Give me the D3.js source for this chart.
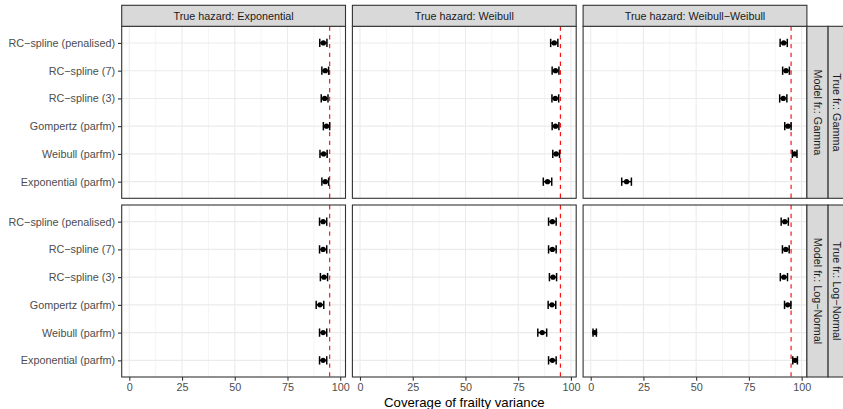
<!DOCTYPE html>
<html>
<head>
<meta charset="utf-8">
<script src="https://cdn.jsdelivr.net/npm/d3@7"></script>
<style>
  body { margin: 0; background: #fff; }
  svg { display: block; font-family: "Liberation Sans", Arial, Helvetica, sans-serif; }
</style>
</head>
<body>
<svg id="chart" width="843" height="409"></svg>
<script>
// Fitted models, listed top to bottom
const models = ["RC\u2212spline (penalised)", "RC\u2212spline (7)", "RC\u2212spline (3)",
                "Gompertz (parfm)", "Weibull (parfm)", "Exponential (parfm)"];
// Column facets (true baseline hazard) and row facets (frailty distribution)
const hazards = ["Exponential", "Weibull", "Weibull\u2212Weibull"];
const frailties = ["Gamma", "Log\u2212Normal"];
const xTicks = [0, 25, 50, 75, 100];
const nominalCoverage = 95;

// Coverage (%) with lower / upper interval, one array per panel, in model order
const gammaExpCov   = [92.0, 92.9, 92.6, 93.5, 92.1, 92.9];
const gammaExpLow   = [90.3, 91.3, 91.0, 92.0, 90.4, 91.3];
const gammaExpHigh  = [93.7, 94.5, 94.2, 95.0, 93.8, 94.5];

const gammaWeiCov   = [92.1, 92.7, 92.6, 92.7, 93.0, 88.9];
const gammaWeiLow   = [90.4, 91.1, 91.0, 91.1, 91.4, 86.9];
const gammaWeiHigh  = [93.8, 94.3, 94.2, 94.3, 94.6, 90.9];

const gammaWWCov    = [91.5, 92.6, 91.3, 93.5, 96.7, 17.0];
const gammaWWLow    = [89.8, 91.0, 89.6, 92.0, 95.6, 14.7];
const gammaWWHigh   = [93.2, 94.2, 93.0, 95.0, 97.8, 19.3];

const lnormExpCov   = [91.9, 91.9, 92.3, 90.4, 91.9, 91.9];
const lnormExpLow   = [90.2, 90.2, 90.6, 88.6, 90.2, 90.2];
const lnormExpHigh  = [93.6, 93.6, 94.0, 92.2, 93.6, 93.6];

const lnormWeiCov   = [91.2, 91.2, 91.5, 91.0, 86.4, 91.2];
const lnormWeiLow   = [89.4, 89.4, 89.8, 89.2, 84.3, 89.4];
const lnormWeiHigh  = [93.0, 93.0, 93.2, 92.8, 88.5, 93.0];

const lnormWWCov    = [92.0, 92.5, 91.6, 93.4, 1.9, 96.9];
const lnormWWLow    = [90.3, 90.9, 89.9, 91.9, 1.1, 95.8];
const lnormWWHigh   = [93.7, 94.1, 93.3, 94.9, 2.7, 98.0];

const panelSeries = [
  [[gammaExpCov, gammaExpLow, gammaExpHigh],
   [gammaWeiCov, gammaWeiLow, gammaWeiHigh],
   [gammaWWCov, gammaWWLow, gammaWWHigh]],
  [[lnormExpCov, lnormExpLow, lnormExpHigh],
   [lnormWeiCov, lnormWeiLow, lnormWeiHigh],
   [lnormWWCov, lnormWWLow, lnormWWHigh]]
];

// ---- layout ----
const panelX0 = 121.7, panelW = 223.8, panelGapX = 6.9;
const stripTop = 5.3, stripH = 21;
const panelY0 = stripTop + stripH, panelH = 172, panelGapY = 6.7;
const sideStripW = 21.2;
const tickLen = 3.7;

const svg = d3.select("#chart");

const x = d3.scaleLinear().domain([-3.6, 102.5]).range([0, panelW]);
const y = d3.scalePoint().domain(models).range([0, panelH]).padding(0.6);
const capW = y.step() * 0.3;
const minorTicks = d3.range(12.5, 100, 25);

const grey20 = "#333333", grey30 = "#4D4D4D", grey85 = "#D9D9D9", grey92 = "#EBEBEB";

frailties.forEach((fr, r) => {
  hazards.forEach((hz, c) => {
    const px = panelX0 + c * (panelW + panelGapX);
    const py = panelY0 + r * (panelH + panelGapY);
    const g = svg.append("g").attr("transform", `translate(${px},${py})`);

    g.append("rect").attr("width", panelW).attr("height", panelH).attr("fill", "#fff");

    // grid
    g.selectAll(".minor").data(minorTicks).join("line")
      .attr("x1", d => x(d)).attr("x2", d => x(d)).attr("y1", 0).attr("y2", panelH)
      .attr("stroke", grey92).attr("stroke-width", 0.55);
    g.selectAll(".majx").data(xTicks).join("line")
      .attr("x1", d => x(d)).attr("x2", d => x(d)).attr("y1", 0).attr("y2", panelH)
      .attr("stroke", grey92).attr("stroke-width", 1.1);
    g.selectAll(".majy").data(models).join("line")
      .attr("x1", 0).attr("x2", panelW).attr("y1", d => y(d)).attr("y2", d => y(d))
      .attr("stroke", grey92).attr("stroke-width", 1.1);

    // nominal coverage reference
    g.append("line")
      .attr("x1", x(nominalCoverage)).attr("x2", x(nominalCoverage))
      .attr("y1", 0).attr("y2", panelH)
      .attr("stroke", "#FF0000").attr("stroke-width", 1.1)
      .attr("stroke-dasharray", "4.4,4.4");

    const [cov, lo, hi] = panelSeries[r][c];
    const rows = models.map((m, i) => ({ m, v: cov[i], lo: lo[i], hi: hi[i] }));

    const eb = g.selectAll(".eb").data(rows).join("g")
      .attr("stroke", "#000").attr("stroke-width", 1.5).attr("fill", "none");
    eb.append("line").attr("x1", d => x(d.lo)).attr("x2", d => x(d.hi))
      .attr("y1", d => y(d.m)).attr("y2", d => y(d.m));
    eb.append("line").attr("x1", d => x(d.lo)).attr("x2", d => x(d.lo))
      .attr("y1", d => y(d.m) - capW / 2).attr("y2", d => y(d.m) + capW / 2);
    eb.append("line").attr("x1", d => x(d.hi)).attr("x2", d => x(d.hi))
      .attr("y1", d => y(d.m) - capW / 2).attr("y2", d => y(d.m) + capW / 2);

    g.selectAll(".pt").data(rows).join("circle")
      .attr("cx", d => x(d.v)).attr("cy", d => y(d.m)).attr("r", 2.6).attr("fill", "#000");

    // border
    g.append("rect").attr("width", panelW).attr("height", panelH)
      .attr("fill", "none").attr("stroke", grey20).attr("stroke-width", 1.1);

    // y axis on first column
    if (c === 0) {
      const ya = g.append("g").call(d3.axisLeft(y).tickSize(tickLen).tickPadding(3));
      ya.select(".domain").remove();
      ya.selectAll(".tick line").attr("stroke", grey20).attr("stroke-width", 1.1);
      ya.selectAll(".tick text").attr("fill", grey30).attr("font-size", "10.8px")
        .attr("font-family", "Liberation Sans, Arial, sans-serif");
    }
    // x axis on bottom row
    if (r === frailties.length - 1) {
      const xa = g.append("g").attr("transform", `translate(0,${panelH})`)
        .call(d3.axisBottom(x).tickValues(xTicks).tickSize(tickLen).tickPadding(3));
      xa.select(".domain").remove();
      xa.selectAll(".tick line").attr("stroke", grey20).attr("stroke-width", 1.1);
      xa.selectAll(".tick text").attr("fill", grey30).attr("font-size", "10.8px")
        .attr("font-family", "Liberation Sans, Arial, sans-serif");
    }

    // top strips
    if (r === 0) {
      const s = svg.append("g").attr("transform", `translate(${px},${stripTop})`);
      s.append("rect").attr("width", panelW).attr("height", stripH)
        .attr("fill", grey85).attr("stroke", grey20).attr("stroke-width", 1.1);
      s.append("text").attr("x", panelW / 2).attr("y", stripH / 2).attr("dy", "0.35em")
        .attr("text-anchor", "middle").attr("font-size", "10.8px").attr("fill", "#1A1A1A")
        .text(`True hazard: ${hz}`);
    }
  });

  // right strips: model frailty (inner) and true frailty (outer)
  const sx = panelX0 + hazards.length * panelW + (hazards.length - 1) * panelGapX;
  const py = panelY0 + r * (panelH + panelGapY);
  [`Model fr.: ${fr}`, `True fr.: ${fr}`].forEach((label, k) => {
    const s = svg.append("g").attr("transform", `translate(${sx + k * sideStripW},${py})`);
    s.append("rect").attr("width", sideStripW).attr("height", panelH)
      .attr("fill", grey85).attr("stroke", grey20).attr("stroke-width", 1.1);
    // outer label nudged left so it stays inside the drawing area
    const cx = k === 0 ? sideStripW / 2 : sideStripW / 2 - 2.2;
    s.append("text")
      .attr("transform", `translate(${cx},${panelH / 2}) rotate(90)`)
      .attr("dy", "0.35em").attr("text-anchor", "middle")
      .attr("font-size", "10.8px").attr("fill", "#1A1A1A").text(label);
  });
});

// axis title
svg.append("text")
  .attr("x", panelX0 + (hazards.length * panelW + (hazards.length - 1) * panelGapX) / 2)
  .attr("y", 402.5).attr("dy", "0.35em").attr("text-anchor", "middle")
  .attr("font-size", "13.2px").attr("fill", "#000")
  .text("Coverage of frailty variance");
</script>
</body>
</html>
